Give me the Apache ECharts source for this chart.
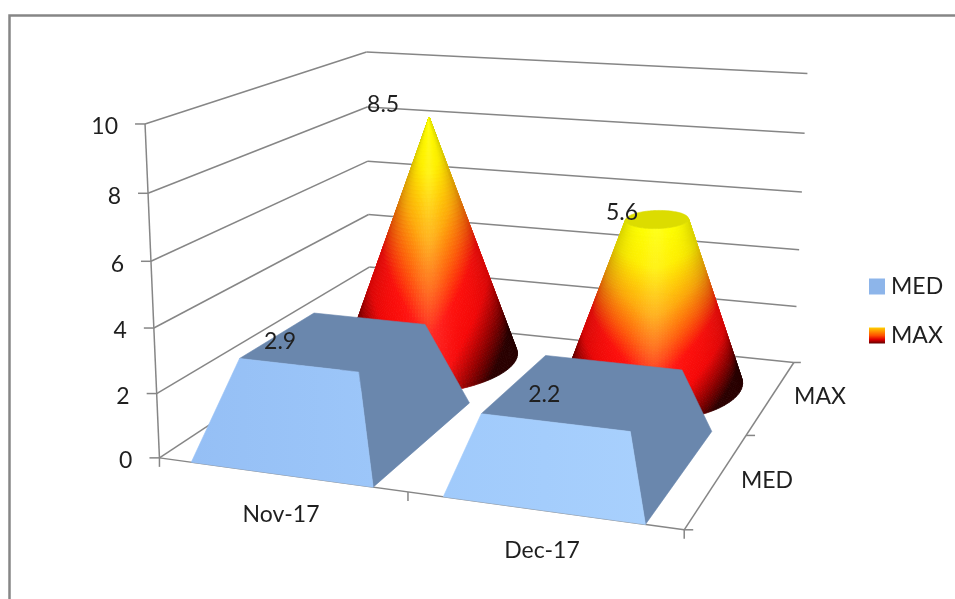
<!DOCTYPE html>
<html>
<head>
<meta charset="utf-8">
<style>html,body{margin:0;padding:0;background:#fff}#chart{width:955px;height:599px}</style>
<script src="https://cdn.jsdelivr.net/npm/echarts@6/dist/echarts.min.js"></script>
</head>
<body>
<div id="chart"></div>
<script>
// Chart content
const categories = ['Nov-17', 'Dec-17'];
const depthNames = ['MED', 'MAX'];
const medValues = [2.9, 2.2];
const maxValues = [8.5, 5.6];
const valueTicks = [0, 2, 4, 6, 8, 10];

// Camera: where points of the unit box (u along categories, v into depth, h up) land on screen
const cameraAnchors = [
  [0,0,0,160,458],[.5,0,0,407,493],[1,0,0,683,530],[1,.5,0,748,435],[1,1,0,793,362],[0,1,0,370,320],
  [0,0,.2,157,393],[0,0,.4,155,328],[0,0,.6,151,261],[0,0,.8,147,193],[0,0,1,145,124],
  [0,1,.2,369,267],[0,1,.4,368,214],[0,1,.6,368,161],[0,1,.8,367,107],[0,1,1,367,52],
  [1,1,.2,797,306],[1,1,.4,799,249],[1,1,.6,802,192],[1,1,.8,804,134],[1,1,1,808,74]
];

// Box proportions of the marks
const halfWidth = 0.183;
const halfDepth = 0.25;
// Data label nudges from the centre of each mark's top, per series then category
const labelNudges = { MED: [[-55, 1], [-41, 4]], MAX: [[-46, -13], [-35, -7]] };

const INK = '#1f1f1f';
const AXIS = '#868686';
const FONT = '23px Lato';

function solve(A, b) {
  const n = b.length;
  for (let i = 0; i < n; i++) {
    let p = i;
    for (let r = i + 1; r < n; r++) if (Math.abs(A[r][i]) > Math.abs(A[p][i])) p = r;
    [A[i], A[p]] = [A[p], A[i]]; [b[i], b[p]] = [b[p], b[i]];
    for (let r = i + 1; r < n; r++) {
      const f = A[r][i] / A[i][i];
      for (let c = i; c < n; c++) A[r][c] -= f * A[i][c];
      b[r] -= f * b[i];
    }
  }
  const x = new Array(n).fill(0);
  for (let i = n - 1; i >= 0; i--) {
    let s = b[i];
    for (let c = i + 1; c < n; c++) s -= A[i][c] * x[c];
    x[i] = s / A[i][i];
  }
  return x;
}

// Least-squares fit of a projective camera to the anchors
const cam = (function () {
  const rows = [], rhs = [];
  cameraAnchors.forEach(([u, v, h, x, y]) => {
    rows.push([u, v, h, 1, 0, 0, 0, 0, -x * u, -x * v, -x * h]); rhs.push(x);
    rows.push([0, 0, 0, 0, u, v, h, 1, -y * u, -y * v, -y * h]); rhs.push(y);
  });
  const n = 11;
  const N = Array.from({ length: n }, () => new Array(n).fill(0));
  const t = new Array(n).fill(0);
  rows.forEach((r, k) => {
    for (let i = 0; i < n; i++) {
      t[i] += r[i] * rhs[k];
      for (let j = 0; j < n; j++) N[i][j] += r[i] * r[j];
    }
  });
  return solve(N, t);
})();

function project(u, v, h) {
  const w = cam[8] * u + cam[9] * v + cam[10] * h + 1;
  return [(cam[0] * u + cam[1] * v + cam[2] * h + cam[3]) / w,
          (cam[4] * u + cam[5] * v + cam[6] * h + cam[7]) / w];
}

// Read a category/value pair through the axes and express it in box units
function boxUnits(params, api, cat, val) {
  const p = api.coord([cat, val]);
  const cs = params.coordSys;
  return { u: (p[0] - cs.x) / cs.width, h: 1 - (p[1] - cs.y) / cs.height };
}

function seg(a, b, width) {
  return { type: 'line', shape: { x1: a[0], y1: a[1], x2: b[0], y2: b[1] },
           style: { stroke: AXIS, lineWidth: width || 1.5, fill: null } };
}
function label(text, x, y, align) {
  return { type: 'text', style: { text, x, y, align: align || 'center', verticalAlign: 'middle', fill: INK, font: FONT } };
}
function poly(points, fill, stroke, width) {
  return { type: 'polygon', shape: { points },
           style: { fill, stroke: stroke || fill, lineWidth: width || 0.6 } };
}

function renderWalls(params, api) {
  const val = api.value(1);
  const h = boxUnits(params, api, 0, val).h;
  const a = project(0, 0, h), b = project(0, 1, h), c = project(1, 1, h);
  return { type: 'group', children: [
    seg(a, b), seg(b, c),
    seg([a[0] - 10, a[1]], a),
    label(String(val), a[0] - 27, a[1] + 3, 'right')
  ] };
}

function renderFloor(params, api) {
  const h0 = boxUnits(params, api, 0, 0).h;
  const fl = project(0, 0, h0), fm = project(.5, 0, h0), fr = project(1, 0, h0),
        rm = project(1, .5, h0), br = project(1, 1, h0), top = project(0, 0, 1);
  return { type: 'group', children: [
    seg(fl, top), seg(fl, fr), seg(fr, br),
    seg(fl, [fl[0], fl[1] + 9]), seg(fm, [fm[0], fm[1] + 9]), seg(fr, [fr[0], fr[1] + 9]),
    seg(fr, [fr[0] + 9, fr[1]]), seg(rm, [rm[0] + 9, rm[1]]), seg(br, [br[0] + 7, br[1]]),
    label(categories[0], 281, 515), label(categories[1], 542, 551),
    label(depthNames[0], 767, 481), label(depthNames[1], 820, 397)
  ] };
}

const apex = Math.max(...medValues, ...maxValues);

function renderPyramid(params, api) {
  const cat = api.value(0), val = api.value(1);
  const { u, h } = boxUnits(params, api, cat, val);
  const v = 0.25;
  const k = 1 - val / apex;
  const base = (su, sv) => project(u + su * halfWidth, v + sv * halfDepth, 0);
  const top = (su, sv) => project(u + su * halfWidth * k, v + sv * halfDepth * k, h);
  const side = '#6a87ad';
  const front = new echarts.graphic.LinearGradient(0, 0, 1, 0, cat === 0
    ? [{ offset: 0, color: '#95bff5' }, { offset: 1, color: '#9cc6f9' }]
    : [{ offset: 0, color: '#a0cafb' }, { offset: 1, color: '#a8d0fd' }]);
  const c = project(u, v, h);
  const nudge = labelNudges.MED[cat];
  return { type: 'group', children: [
    // Top and right faces share one shade, so they are one outline
    poly([base(1, -1), base(1, 1), top(1, 1), top(-1, 1), top(-1, -1), top(1, -1)], side),
    poly([base(-1, -1), base(1, -1), top(1, -1), top(-1, -1)], front),
    label(val.toFixed(1), c[0] + nudge[0], c[1] + nudge[1])
  ] };
}

// Fire ramp used down the cone surface
const fireStops = [[0, [255, 255, 0]], [.14, [255, 240, 0]], [.3, [255, 170, 10]], [.42, [255, 95, 10]], [.53, [255, 16, 12]], [.68, [248, 8, 8]], [.85, [140, 0, 0]], [1, [45, 0, 0]]];
function fire(t) {
  t = Math.min(1, Math.max(0, t));
  for (let i = 1; i < fireStops.length; i++) {
    if (t <= fireStops[i][0]) {
      const [t0, c0] = fireStops[i - 1], [t1, c1] = fireStops[i];
      const f = (t - t0) / (t1 - t0);
      return c0.map((c, n) => c + (c1[n] - c) * f);
    }
  }
  return fireStops[fireStops.length - 1][1];
}

function renderCone(params, api) {
  const cat = api.value(0), val = api.value(1);
  const { u, h } = boxUnits(params, api, cat, val);
  const v = 0.75;
  const k = 1 - val / apex;
  const SEG = 140, RINGS = 70;
  const ring = (j, i) => {
    const s = j / RINGS;                          // 0 at the top, 1 at the base
    const r = k + (1 - k) * s;
    const phi = i / SEG * Math.PI * 2;
    return project(u + Math.cos(phi) * r * halfWidth, v + Math.sin(phi) * r * halfDepth, h * (1 - s));
  };
  // Screen-space middle and half width of one ring, so the highlight runs straight up the cone
  const span = j => {
    let lo = Infinity, hi = -Infinity;
    for (let i = 0; i < SEG; i++) {
      const x = ring(j, i)[0];
      lo = Math.min(lo, x); hi = Math.max(hi, x);
    }
    return [(lo + hi) / 2, Math.max((hi - lo) / 2, 1e-3)];
  };
  const children = [];
  for (let j = 0; j < RINGS; j++) {
    const [mid, half] = span(j + 1);
    for (let i = 0; i < SEG; i++) {
      const q = [ring(j, i), ring(j, i + 1), ring(j + 1, i + 1), ring(j + 1, i)];
      let area = 0;
      for (let n = 0; n < 4; n++) {
        const a = q[n], b = q[(n + 1) % 4];
        area += a[0] * b[1] - b[0] * a[1];
      }
      if (area <= 0) continue;                    // facet turned away from the camera
      const s = (j + .5) / RINGS;
      const a = Math.min(1, Math.abs((q[2][0] + q[3][0]) / 2 - mid) / half);
      const t = s * (0.66 + 0.34 * Math.pow(a, 1.4)) + Math.pow(s, 6) * a * .2;
      const glow = Math.exp(-Math.pow(a / .28, 2)) * .1;
      const edge = 1 - .14 * Math.pow(a, 4);
      const rgb = fire(t).map(c => Math.round((c + (255 - c) * glow) * edge));
      const col = 'rgb(' + rgb.join(',') + ')';
      children.push(poly(q, col, col, 0.8));
    }
  }
  if (k > 0) {
    const cap = [];
    for (let i = 0; i < SEG; i++) cap.push(ring(0, i));
    children.push(poly(cap, '#dcdc00'));
  }
  const c = project(u, v, h);
  const nudge = labelNudges.MAX[cat];
  children.push(label(val.toFixed(1), c[0] + nudge[0], c[1] + nudge[1]));
  return { type: 'group', children };
}

const chart = echarts.init(document.getElementById('chart'), null, { renderer: 'canvas' });
chart.setOption({
  animation: false,
  backgroundColor: '#ffffff',
  grid: { left: 0, top: 0, width: 100, height: 100 },
  xAxis: { type: 'category', data: categories, show: false },
  yAxis: { type: 'value', min: 0, max: 10, interval: 2, show: false },
  legend: {
    orient: 'vertical', left: 869, top: 275, padding: 0, icon: 'rect', itemWidth: 16, itemHeight: 16, itemGap: 26,
    textStyle: { fontFamily: 'Lato', fontSize: 23, color: INK, padding: [0, 0, 0, 1] },
    data: ['MED', 'MAX'], selectedMode: false
  },
  graphic: [{
    type: 'rect', silent: true, shape: { x: 9.5, y: 15.5, width: 1100, height: 800 },
    style: { fill: null, stroke: '#868686', lineWidth: 2.5 }
  }],
  series: [
    { type: 'custom', name: 'walls', z: 1, silent: true, renderItem: renderWalls,
      encode: { x: 0, y: 1 }, data: valueTicks.map(t => [0, t]) },
    { type: 'custom', name: 'floor', z: 2, silent: true, renderItem: renderFloor,
      encode: { x: 0, y: 1 }, data: [[0, 0]] },
    { type: 'custom', name: 'MAX', z: 3, silent: true, renderItem: renderCone,
      encode: { x: 0, y: 1 }, data: maxValues.map((d, i) => [i, d]),
      itemStyle: { color: new echarts.graphic.LinearGradient(0, 0, 0, 1, [
        { offset: 0, color: '#ffd000' }, { offset: .5, color: '#ff5000' }, { offset: .75, color: '#e00000' }, { offset: 1, color: '#600000' }
      ]) } },
    { type: 'custom', name: 'MED', z: 4, silent: true, renderItem: renderPyramid,
      encode: { x: 0, y: 1 }, data: medValues.map((d, i) => [i, d]),
      itemStyle: { color: '#8db5ea' } }
  ]
});
</script>
</body>
</html>
